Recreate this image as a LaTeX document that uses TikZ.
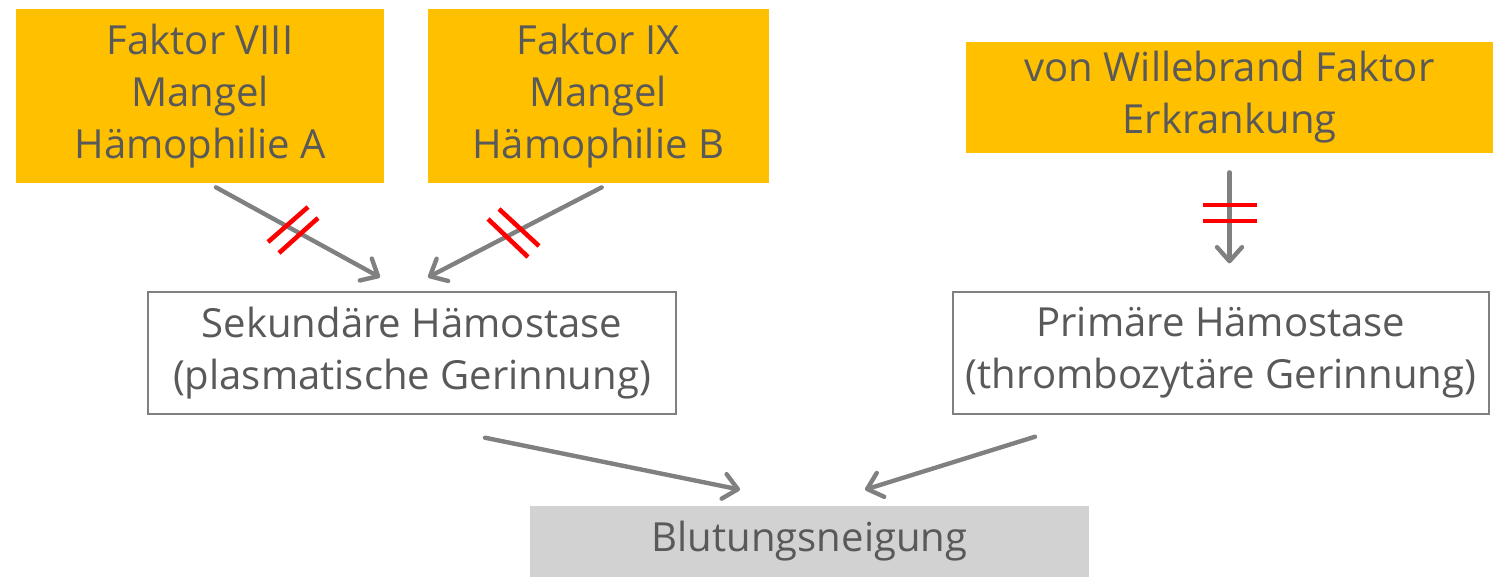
\documentclass[tikz,border=0pt]{standalone}
\usepackage{fontspec}
\setmainfont{Open Sans}
\usepackage{tikz}
\usetikzlibrary{arrows.meta, positioning, calc}
\usepackage{xcolor}
\definecolor{factorcolor}{RGB}{255,192,0}
\definecolor{textgray}{RGB}{89,89,89}
\definecolor{linegray}{RGB}{128,128,128}
\definecolor{bleedgray}{RGB}{210,210,210}

\begin{document}
\begin{tikzpicture}[
    box/.style={rectangle, inner sep=0pt, align=center, text=textgray, font=\fontsize{22.8}{29.5}\selectfont},
    factor/.style={box, fill=factorcolor, minimum height=3.48cm},
    hemo/.style={box, draw=linegray, line width=0.8pt, fill=white, minimum height=2.44cm},
    arrow/.style={-{Straight Barb[length=2.8mm, width=5mm, round]}, line width=2.5pt, linegray, line cap=round},
    blocked/.style={red, line width=2.6pt}
]
\useasboundingbox (0,0) rectangle (29.86,-11.54);

% deficiencies
\node[factor, minimum width=7.36cm] (viii) at (4.0,-1.92) {Faktor VIII\\Mangel\\Hämophilie A};
\node[factor, minimum width=6.82cm, right=0.86cm of viii] (ix) {Faktor IX\\Mangel\\Hämophilie B};
\node[factor, minimum width=10.54cm, minimum height=2.22cm] (vwf) at (24.59,-1.95) {von Willebrand Faktor\\Erkrankung};

% haemostasis
\node[hemo, minimum width=10.56cm] (sek) at (8.24,-7.06) {Sekundäre Hämostase\\(plasmatische Gerinnung)};
\node[hemo, minimum width=10.72cm] (prim) at (24.42,-7.06) {Primäre Hämostase\\(thrombozytäre Gerinnung)};

% result
\node[box, fill=bleedgray, minimum width=11.18cm, minimum height=1.42cm] (blut) at (16.19,-10.83) {Blutungsneigung};

\draw[arrow] ($(viii.south)+(0.32,-0.08)$) -- ($(sek.north)+(-0.64,0.28)$);
\draw[arrow] ($(ix.south)+(0.07,-0.08)$) -- ($(sek.north)+(0.32,0.28)$);
\draw[arrow] ($(vwf.south)+(0,-0.38)$) -- ($(vwf.south)+(0,-2.2)$);
\draw[arrow] ($(sek.south)+(1.46,-0.46)$) -- ($(blut.north)+(-1.39,0.32)$);
\draw[arrow] ($(prim.south)+(-3.72,-0.44)$) -- ($(blut.north)+(1.11,0.32)$);

% interrupted pathways
\draw[blocked] (5.36,-4.84) -- (6.16,-4.14);
\draw[blocked] (5.58,-5.06) -- (6.36,-4.36);
\draw[blocked] (9.76,-4.38) -- (10.56,-5.14);
\draw[blocked] (9.98,-4.18) -- (10.78,-4.92);
\draw[blocked] (24.06,-4.10) -- (25.14,-4.10);
\draw[blocked] (24.06,-4.42) -- (25.14,-4.42);
\end{tikzpicture}
\end{document}
